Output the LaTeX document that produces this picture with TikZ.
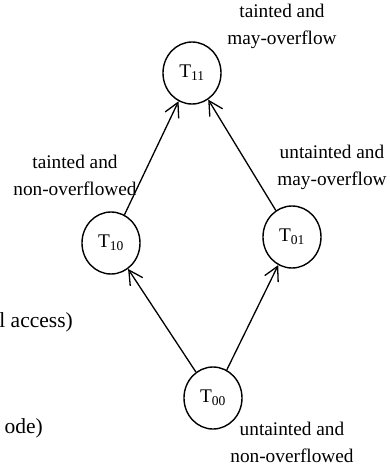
\documentclass[tikz,border=0pt]{standalone}
\usepackage{fontspec}
\setmainfont{Liberation Serif}
\usetikzlibrary{arrows.meta,shapes.geometric}

\tikzset{
  state/.style={draw, ellipse, line width=1.4pt, minimum width=58pt,
    minimum height=62pt, inner sep=0pt, font=\fontsize{19.3}{27}\selectfont},
  lbl/.style={align=center, inner sep=0pt, font=\fontsize{19.3}{27}\selectfont},
  edge/.style={line width=1.3pt, -{Straight Barb[length=14pt,width=15pt]}},
  cut/.style={anchor=base east, inner sep=0pt, font=\fontsize{21.5}{25}\selectfont},
}

\begin{document}
\begin{tikzpicture}[x=1pt, y=-1pt]
  \useasboundingbox (0,0) rectangle (390,472);

  % states
  \node[state] (t11) at (192,73) {T\textsubscript{11}};
  \node[state] (t10) at (111,243) {T\textsubscript{10}};
  \node[state] (t01) at (292,237) {T\textsubscript{01}};
  \node[state] (t00) at (213,398) {T\textsubscript{00}};

  \draw[edge] (t00) -- (t10);
  \draw[edge] (t00) -- (t01);
  \draw[edge] (t10) -- (t11);
  \draw[edge] (t01) -- (t11);

  % state meanings
  \node[lbl] (l11) at (282,26) {tainted and\\may-overflow};
  \node[lbl] (l10) at (75,175) {tainted and\\non-overflowed};
  \node[lbl] (l01) at (332,167) {untainted and\\may-overflow};
  \node[lbl] (l00) at (292,442) {untainted and\\non-overflowed};

  % text cut at the left edge
  \node[cut] (acc) at (73,327) {l access)};
  \node[cut] (mode) at (43,433) {ode)};
\end{tikzpicture}
\end{document}
